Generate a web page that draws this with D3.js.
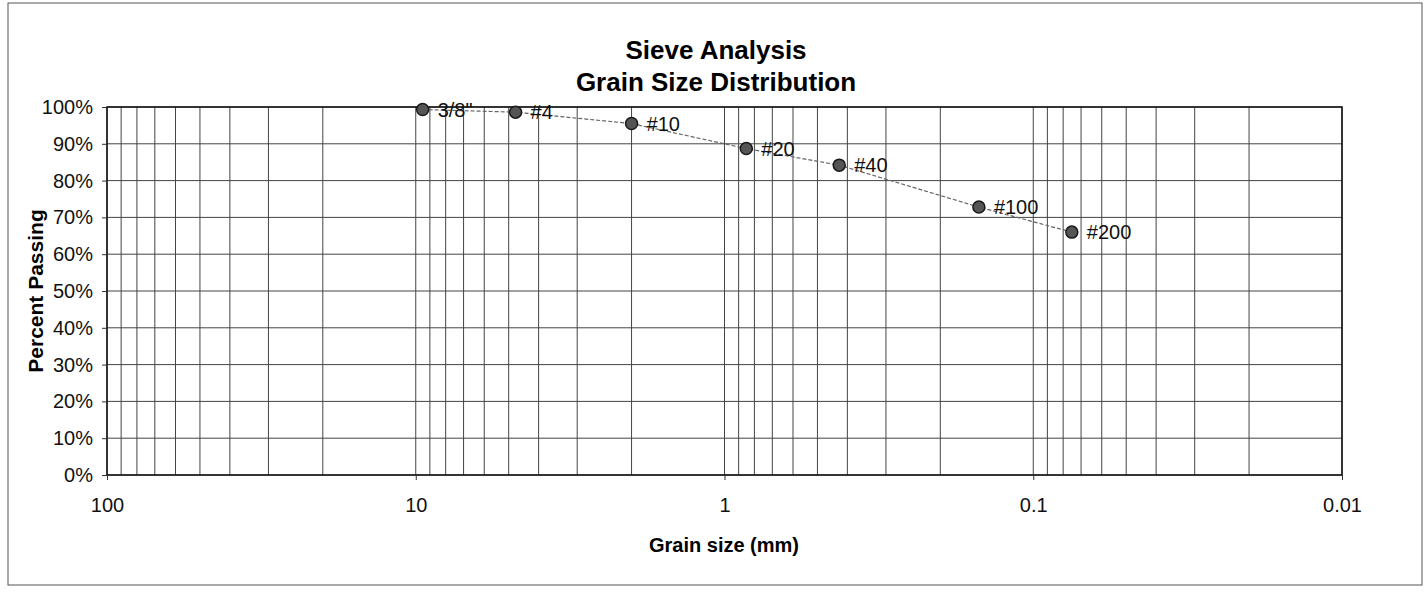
<!DOCTYPE html>
<html>
<head>
<meta charset="utf-8">
<script src="https://cdn.jsdelivr.net/npm/d3@7"></script>
<style>
  html, body { margin: 0; padding: 0; background: #fff; }
  svg { display: block; font-family: "Liberation Sans", Arial, sans-serif; }
</style>
</head>
<body>
<svg id="chart" width="1426" height="592"></svg>
<script>
// ---- data ----
const sieveNames = ['3/8"', '#4', '#10', '#20', '#40', '#100', '#200'];
const grainSizeMm = [9.5, 4.75, 2.0, 0.85, 0.425, 0.15, 0.075];
const percentPassing = [99.3, 98.6, 95.5, 88.7, 84.2, 72.8, 66.0];
const yTickValues = [0, 10, 20, 30, 40, 50, 60, 70, 80, 90, 100];
const yTickLabels = ['0%', '10%', '20%', '30%', '40%', '50%', '60%', '70%', '80%', '90%', '100%'];
const xTickValues = [100, 10, 1, 0.1, 0.01];
const xTickLabels = ['100', '10', '1', '0.1', '0.01'];
const titleLines = ['Sieve Analysis', 'Grain Size Distribution'];
const xTitle = 'Grain size (mm)';
const yTitle = 'Percent Passing';

// ---- layout ----
const svg = d3.select('#chart');
const plot = { left: 107, right: 1342, top: 107, bottom: 475 };

const x = d3.scaleLog().domain([100, 0.01]).range([plot.left, plot.right]);
const y = d3.scaleLinear().domain([0, 100]).range([plot.bottom, plot.top]);

// outer chart border
svg.append('rect')
  .attr('x', 8).attr('y', 3).attr('width', 1414).attr('height', 582)
  .attr('fill', 'none').attr('stroke', '#555').attr('stroke-width', 1);

// titles
svg.append('text').attr('x', 716).attr('y', 59).attr('text-anchor', 'middle')
  .attr('font-size', 26).attr('font-weight', 'bold').text(titleLines[0]);
svg.append('text').attr('x', 716).attr('y', 91).attr('text-anchor', 'middle')
  .attr('font-size', 26).attr('font-weight', 'bold').text(titleLines[1]);

// vertical grid (log minor ticks)
const g = svg.append('g');
g.selectAll('line.vgrid').data(x.ticks())
  .join('line').attr('class', 'vgrid')
  .attr('x1', d => x(d)).attr('x2', d => x(d))
  .attr('y1', plot.top).attr('y2', plot.bottom)
  .attr('stroke', '#444').attr('stroke-width', 1);

// horizontal grid
g.selectAll('line.hgrid').data(yTickValues)
  .join('line').attr('class', 'hgrid')
  .attr('x1', plot.left).attr('x2', plot.right)
  .attr('y1', d => y(d)).attr('y2', d => y(d))
  .attr('stroke', '#444').attr('stroke-width', 1);

// plot frame
svg.append('rect')
  .attr('x', plot.left).attr('y', plot.top)
  .attr('width', plot.right - plot.left).attr('height', plot.bottom - plot.top)
  .attr('fill', 'none').attr('stroke', '#111').attr('stroke-width', 1.5);

// y axis
const yAxis = d3.axisLeft(y).tickValues(yTickValues)
  .tickFormat((d, i) => yTickLabels[i]).tickSize(5).tickPadding(9);
const ya = svg.append('g').attr('transform', `translate(${plot.left},0)`).call(yAxis);
ya.select('.domain').remove();
ya.selectAll('line').attr('stroke', '#333');
ya.selectAll('text').attr('font-size', 20).attr('fill', '#111')
  .attr('font-family', '"Liberation Sans", Arial, sans-serif');

// x axis
const xAxis = d3.axisBottom(x).tickValues(xTickValues)
  .tickFormat((d, i) => xTickLabels[i]).tickSize(5).tickPadding(18);
const xa = svg.append('g').attr('transform', `translate(0,${plot.bottom})`).call(xAxis);
xa.select('.domain').remove();
xa.selectAll('line').attr('stroke', '#333');
xa.selectAll('text').attr('font-size', 20).attr('fill', '#111')
  .attr('font-family', '"Liberation Sans", Arial, sans-serif');

// axis titles
svg.append('text').attr('x', 724).attr('y', 552).attr('text-anchor', 'middle')
  .attr('font-size', 20).attr('font-weight', 'bold').text(xTitle);
svg.append('text').attr('transform', 'translate(43,291) rotate(-90)')
  .attr('text-anchor', 'middle').attr('font-size', 21).attr('font-weight', 'bold').text(yTitle);

// data line
const pts = grainSizeMm.map((s, i) => ({ s, p: percentPassing[i], name: sieveNames[i] }));
svg.append('path').datum(pts)
  .attr('d', d3.line().x(d => x(d.s)).y(d => y(d.p)))
  .attr('fill', 'none').attr('stroke', '#666').attr('stroke-width', 1.2)
  .attr('stroke-dasharray', '4,2');

// markers
svg.selectAll('circle.pt').data(pts).join('circle').attr('class', 'pt')
  .attr('cx', d => x(d.s)).attr('cy', d => y(d.p)).attr('r', 6)
  .attr('fill', '#555').attr('stroke', '#1a1a1a').attr('stroke-width', 1.5);

// point labels
svg.selectAll('text.lbl').data(pts).join('text').attr('class', 'lbl')
  .attr('x', d => x(d.s) + 15).attr('y', d => y(d.p) + 7)
  .attr('font-size', 20).attr('fill', '#111').text(d => d.name);
</script>
</body>
</html>
